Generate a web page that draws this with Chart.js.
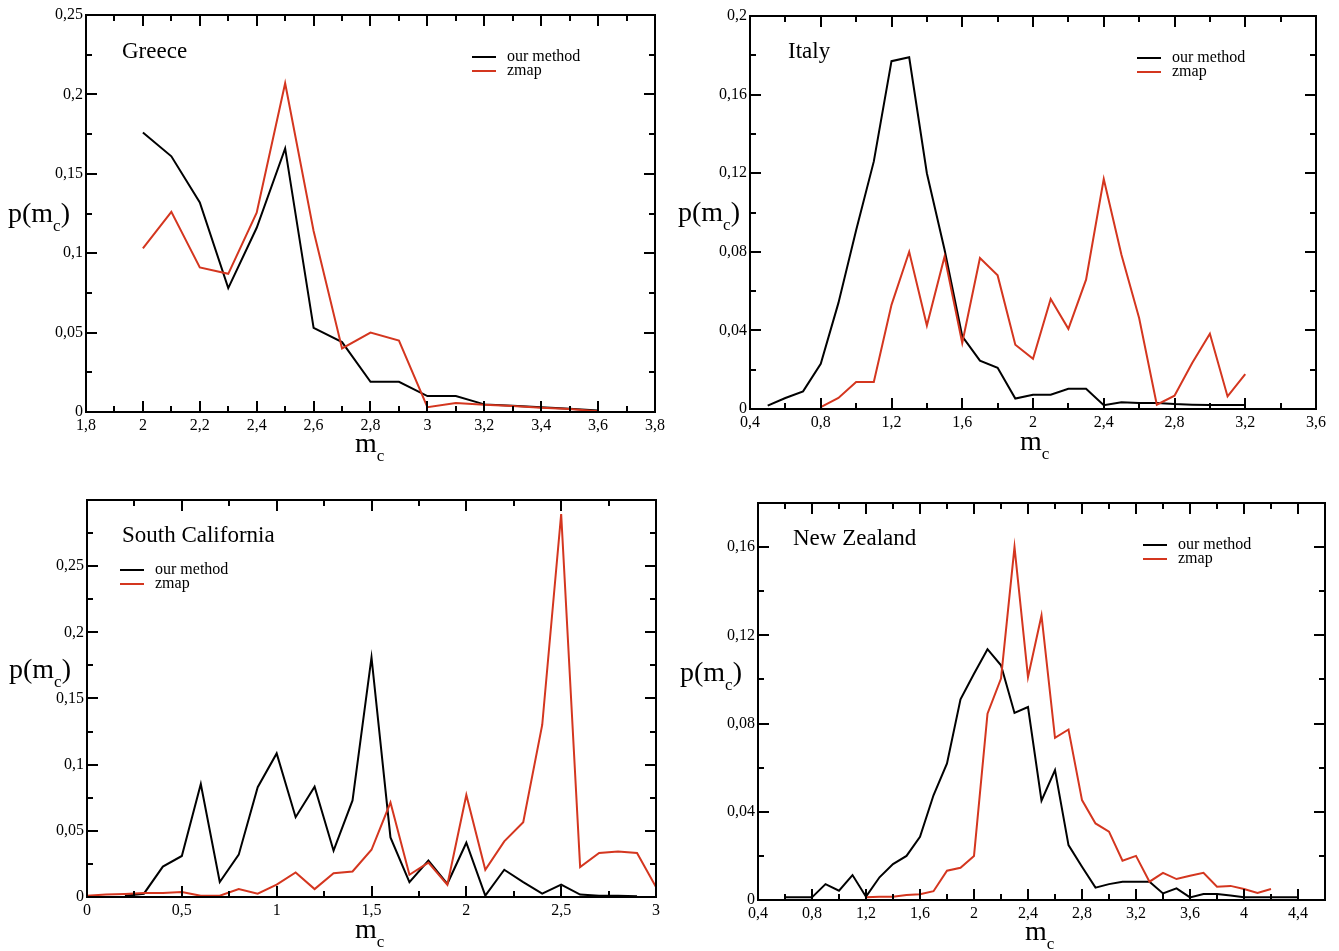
<!DOCTYPE html>
<html><head><meta charset="utf-8">
<script src="https://cdn.jsdelivr.net/npm/chart.js@4.4.1/dist/chart.umd.min.js"></script>
<style>
html,body{margin:0;padding:0;background:#fff;}
body{width:1339px;height:951px;position:relative;overflow:hidden;font-family:"Liberation Serif","DejaVu Serif",serif;color:#000;}
.panel{position:absolute;}
.panel canvas{display:block;}
.lbl{position:absolute;white-space:nowrap;line-height:1;}
.title{font-size:23px;}
.axt{font-size:28px;}
.axt sub{font-size:17px;vertical-align:-9px;line-height:0;}
.leg{position:absolute;font-size:16px;}
.leg .row{height:14px;line-height:14px;white-space:nowrap;}
.leg .ln{display:inline-block;width:24px;height:2px;vertical-align:middle;margin-right:11px;}
</style></head>
<body>
<div class="panel" style="left:0;top:0"><canvas id="c1" width="670" height="440"></canvas></div>
<div class="panel" style="left:670px;top:0"><canvas id="c2" width="669" height="440"></canvas></div>
<div class="panel" style="left:0;top:480px"><canvas id="c3" width="670" height="460"></canvas></div>
<div class="panel" style="left:670px;top:480px"><canvas id="c4" width="669" height="460"></canvas></div>

<div class="lbl title" style="left:122px;top:39px">Greece</div>
<div class="lbl title" style="left:788px;top:39px">Italy</div>
<div class="lbl title" style="left:122px;top:523px">South California</div>
<div class="lbl title" style="left:793px;top:526px">New Zealand</div>

<div class="lbl axt" style="left:8px;top:199px">p(m<sub>c</sub>)</div>
<div class="lbl axt" style="left:678px;top:198px">p(m<sub>c</sub>)</div>
<div class="lbl axt" style="left:9px;top:655px">p(m<sub>c</sub>)</div>
<div class="lbl axt" style="left:680px;top:658px">p(m<sub>c</sub>)</div>

<div class="lbl axt" style="left:355px;top:429px">m<sub>c</sub></div>
<div class="lbl axt" style="left:1020px;top:427px">m<sub>c</sub></div>
<div class="lbl axt" style="left:355px;top:915px">m<sub>c</sub></div>
<div class="lbl axt" style="left:1025px;top:917px">m<sub>c</sub></div>

<div class="leg" id="leg1" style="left:472px;top:49px"></div>
<div class="leg" id="leg2" style="left:1137px;top:50px"></div>
<div class="leg" id="leg3" style="left:120px;top:562px"></div>
<div class="leg" id="leg4" style="left:1143px;top:537px"></div>

<script>
// ---------- DATA ----------
const seriesNames = ['our method', 'zmap'];

// Greece
const greeceM = [2.0, 2.1, 2.2, 2.3, 2.4, 2.5, 2.6, 2.7, 2.8, 2.9, 3.0, 3.1, 3.2, 3.3, 3.4, 3.5, 3.6];
const greeceOur = [0.176, 0.161, 0.132, 0.078, 0.116, 0.166, 0.053, 0.044, 0.019, 0.019, 0.010, 0.010, 0.0048, 0.004, 0.003, 0.002, 0.001];
const greeceZmap = [0.103, 0.126, 0.091, 0.087, 0.1255, 0.207, 0.114, 0.040, 0.050, 0.045, 0.003, 0.0056, 0.0046, 0.0038, 0.0027, 0.0019, 0.0004];
const greeceXTicks = [1.8, 2.0, 2.2, 2.4, 2.6, 2.8, 3.0, 3.2, 3.4, 3.6, 3.8];
const greeceYTicks = [0, 0.05, 0.1, 0.15, 0.2, 0.25];

// Italy
const italyM = [0.5, 0.6, 0.7, 0.8, 0.9, 1.0, 1.1, 1.2, 1.3, 1.4, 1.5, 1.6, 1.7, 1.8, 1.9, 2.0, 2.1, 2.2, 2.3, 2.4, 2.5, 2.6, 2.7, 2.8, 2.9, 3.0, 3.1, 3.2];
const italyOur = [0.0017, 0.0056, 0.009, 0.023, 0.054, 0.091, 0.126, 0.177, 0.179, 0.120, 0.081, 0.037, 0.0246, 0.021, 0.0053, 0.0073, 0.0073, 0.0103, 0.0103, 0.0019, 0.0034, 0.003, 0.003, 0.0025, 0.0022, 0.002, 0.002, 0.002];
const italyZmap = [null, null, null, 0.001, 0.0056, 0.0137, 0.0137, 0.053, 0.080, 0.0425, 0.0776, 0.0336, 0.0768, 0.068, 0.0327, 0.0256, 0.056, 0.0408, 0.0658, 0.117, 0.0785, 0.0463, 0.0022, 0.0068, 0.0234, 0.0383, 0.0064, 0.0178];
const italyXTicks = [0.4, 0.8, 1.2, 1.6, 2.0, 2.4, 2.8, 3.2, 3.6];
const italyYTicks = [0, 0.04, 0.08, 0.12, 0.16, 0.2];

// South California
const scalM = [0.0, 0.1, 0.2, 0.3, 0.4, 0.5, 0.6, 0.7, 0.8, 0.9, 1.0, 1.1, 1.2, 1.3, 1.4, 1.5, 1.6, 1.7, 1.8, 1.9, 2.0, 2.1, 2.2, 2.3, 2.4, 2.5, 2.6, 2.7, 2.8, 2.9, 3.0];
const scalOur = [null, null, 0.001, 0.0025, 0.023, 0.031, 0.0854, 0.0113, 0.032, 0.083, 0.1085, 0.0603, 0.0834, 0.035, 0.073, 0.181, 0.045, 0.0113, 0.0276, 0.010, 0.041, 0.001, 0.0206, 0.0113, 0.0025, 0.0093, 0.0018, 0.001, 0.001, 0.0005, null];
const scalZmap = [0.001, 0.0018, 0.0023, 0.003, 0.003, 0.0038, 0.001, 0.001, 0.006, 0.0025, 0.0093, 0.0186, 0.006, 0.018, 0.0193, 0.0357, 0.0714, 0.0168, 0.026, 0.0093, 0.0771, 0.0206, 0.042, 0.0565, 0.13, 0.2894, 0.0226, 0.0332, 0.0344, 0.0332, 0.0075];
const scalXTicks = [0, 0.5, 1.0, 1.5, 2.0, 2.5, 3.0];
const scalYTicks = [0, 0.05, 0.1, 0.15, 0.2, 0.25];

// New Zealand
const nzM = [0.6, 0.7, 0.8, 0.9, 1.0, 1.1, 1.2, 1.3, 1.4, 1.5, 1.6, 1.7, 1.8, 1.9, 2.0, 2.1, 2.2, 2.3, 2.4, 2.5, 2.6, 2.7, 2.8, 2.9, 3.0, 3.1, 3.2, 3.3, 3.4, 3.5, 3.6, 3.7, 3.8, 3.9, 4.0, 4.1, 4.2, 4.3, 4.4];
const nzOur = [0.0012, 0.0012, 0.0012, 0.0072, 0.0042, 0.0113, 0.0015, 0.0103, 0.0163, 0.020, 0.0287, 0.0475, 0.0619, 0.091, 0.1026, 0.1137, 0.1064, 0.0848, 0.0875, 0.045, 0.0589, 0.0249, 0.0151, 0.0056, 0.0072, 0.0083, 0.0083, 0.0083, 0.003, 0.0053, 0.0012, 0.0027, 0.0027, 0.002, 0.0012, 0.0012, 0.0012, 0.0012, 0.0012];
const nzZmap = [null, null, null, null, null, null, 0.0012, 0.0015, 0.0015, 0.0023, 0.0026, 0.004, 0.0133, 0.0146, 0.020, 0.0845, 0.1004, 0.160, 0.101, 0.129, 0.0735, 0.0773, 0.0453, 0.0347, 0.031, 0.0178, 0.020, 0.0083, 0.0123, 0.0095, 0.011, 0.0123, 0.006, 0.0064, 0.005, 0.0032, 0.005, null, null];
const nzXTicks = [0.4, 0.8, 1.2, 1.6, 2.0, 2.4, 2.8, 3.2, 3.6, 4.0, 4.4];
const nzYTicks = [0, 0.04, 0.08, 0.12, 0.16];

// ---------- STYLE ----------
const COLORS = ['#000000', '#d4361f'];
const FONT = {family: "'Liberation Serif', 'DejaVu Serif', serif", size: 16};

const fmt = v => {
  const s = String(Math.round(v * 10000) / 10000);
  return s.replace('.', ',');
};

const framePlugin = {
  id: 'frame',
  afterDatasetsDraw(chart, args, opts) {
    const {ctx, chartArea: a, scales: {x, y}} = chart;
    ctx.save();
    ctx.strokeStyle = '#000';
    ctx.lineWidth = 2;
    ctx.lineCap = 'butt';
    const MAJ = 11, MIN = 6;
    const isMajor = (vals, v) => vals.some(t => Math.abs(t - v) < 1e-6);
    ctx.beginPath();
    const xMaj = x.ticks.map(t => t.value);
    const nx = Math.round((x.max - x.min) / opts.xMinor);
    for (let i = 0; i <= nx; i++) {
      const v = x.min + i * opts.xMinor;
      const len = isMajor(xMaj, v) ? MAJ : MIN;
      const px = Math.round(x.getPixelForValue(v));
      ctx.moveTo(px, a.bottom); ctx.lineTo(px, a.bottom - len);
      ctx.moveTo(px, a.top); ctx.lineTo(px, a.top + len);
    }
    const yMaj = y.ticks.map(t => t.value);
    const ny = Math.round((y.max - y.min) / opts.yMinor);
    for (let i = 0; i <= ny; i++) {
      const v = y.min + i * opts.yMinor;
      const len = isMajor(yMaj, v) ? MAJ : MIN;
      const py = Math.round(y.getPixelForValue(v));
      ctx.moveTo(a.left, py); ctx.lineTo(a.left + len, py);
      ctx.moveTo(a.right, py); ctx.lineTo(a.right - len, py);
    }
    ctx.stroke();
    ctx.strokeRect(a.left, a.top, a.right - a.left, a.bottom - a.top);
    ctx.restore();
  }
};

function makePanel(id, legId, m, our, zmap, xTicks, yTicks, cfg) {
  const toPts = arr => m.map((v, i) => ({x: v, y: arr[i]}));
  const chart = new Chart(document.getElementById(id), {
    type: 'line',
    data: {
      datasets: [
        {label: seriesNames[0], data: toPts(our), borderColor: COLORS[0], backgroundColor: COLORS[0], borderWidth: 2, pointRadius: 0, tension: 0, order: 1},
        {label: seriesNames[1], data: toPts(zmap), borderColor: COLORS[1], backgroundColor: COLORS[1], borderWidth: 2, pointRadius: 0, tension: 0, order: 0}
      ]
    },
    options: {
      responsive: false,
      animation: false,
      devicePixelRatio: 1,
      layout: {padding: {left: 0, top: cfg.padTop, right: cfg.padRight, bottom: 0}},
      plugins: {legend: {display: false}, tooltip: {enabled: false}, frame: {xMinor: cfg.xMinor, yMinor: cfg.yMinor}},
      scales: {
        x: {
          type: 'linear', min: cfg.xMin, max: cfg.xMax,
          grid: {display: false, drawTicks: false}, border: {display: false},
          afterBuildTicks: s => { s.ticks = xTicks.map(v => ({value: v})); },
          afterFit: s => { s.height = cfg.xh; s.paddingLeft = 0; s.paddingRight = 0; },
          ticks: {font: FONT, color: '#000', padding: 4, maxRotation: 0, autoSkip: false, callback: v => fmt(v)}
        },
        y: {
          type: 'linear', min: 0, max: cfg.yMax,
          grid: {display: false, drawTicks: false}, border: {display: false},
          afterBuildTicks: s => { s.ticks = yTicks.map(v => ({value: v})); },
          afterFit: s => { s.width = cfg.yw; s.paddingTop = 0; s.paddingBottom = 0; },
          ticks: {font: FONT, color: '#000', padding: 3, autoSkip: false, callback: v => fmt(v)}
        }
      }
    },
    plugins: [framePlugin]
  });
  const leg = document.getElementById(legId);
  leg.innerHTML = chart.data.datasets.map(d =>
    '<div class="row"><span class="ln" style="background:' + d.borderColor + '"></span>' + d.label + '</div>').join('');
  return chart;
}

makePanel('c1', 'leg1', greeceM, greeceOur, greeceZmap, greeceXTicks, greeceYTicks,
  {xMin: 1.8, xMax: 3.8, yMax: 0.25, xMinor: 0.1, yMinor: 0.025, padTop: 15, padRight: 15, yw: 86, xh: 28});
makePanel('c2', 'leg2', italyM, italyOur, italyZmap, italyXTicks, italyYTicks,
  {xMin: 0.4, xMax: 3.6, yMax: 0.2, xMinor: 0.2, yMinor: 0.02, padTop: 16, padRight: 23, yw: 80, xh: 31});
makePanel('c3', 'leg3', scalM, scalOur, scalZmap, scalXTicks, scalYTicks,
  {xMin: 0, xMax: 3, yMax: 0.3, xMinor: 0.25, yMinor: 0.025, padTop: 20, padRight: 14, yw: 87, xh: 43});
makePanel('c4', 'leg4', nzM, nzOur, nzZmap, nzXTicks, nzYTicks,
  {xMin: 0.4, xMax: 4.6, yMax: 0.18, xMinor: 0.2, yMinor: 0.02, padTop: 23, padRight: 14, yw: 88, xh: 40});
</script>
</body></html>
